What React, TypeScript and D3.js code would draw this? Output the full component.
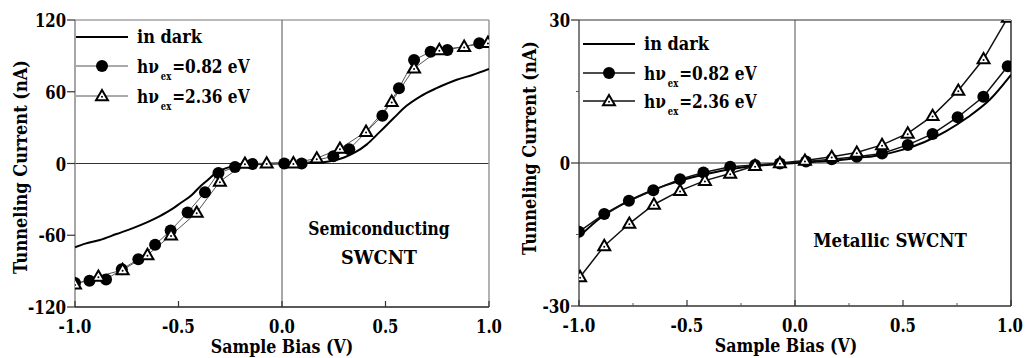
import * as d3 from "d3";

// Only DejaVu Serif renders as a serif face here; each text gets squeezed to Times Bold widths.
const FONT = "DejaVu Serif";
const EM = 20.7; // reference text size (Times Bold metrics)
const SIZE = 18.8; // DejaVu Serif size with the same cap height

/* ---------------- data: semiconducting SWCNT ---------------- */

const semiDarkBias = [-1.0, -0.95, -0.88, -0.8, -0.72, -0.65, -0.59, -0.53, -0.49, -0.44, -0.4, -0.36, -0.32, -0.28, -0.24, -0.2, -0.15, -0.1, 0, 0.1, 0.15, 0.2, 0.25, 0.3, 0.35, 0.41, 0.47, 0.54, 0.6, 0.667, 0.747, 0.844, 0.92, 1.0];
const semiDarkCurrent = [-70, -67, -64, -59, -54, -49, -44, -38, -33, -27, -20, -14, -8, -4.5, -2.5, -1.5, -0.8, -0.4, 0, 0.3, 0.5, 1, 2.5, 5, 9, 16, 26, 38, 48, 56, 63, 70, 74, 79];

const semiLowBias = [-1.0, -0.93, -0.85, -0.774, -0.694, -0.613, -0.538, -0.456, -0.372, -0.307, -0.227, -0.143, 0.011, 0.095, 0.248, 0.325, 0.485, 0.565, 0.638, 0.718, 0.799, 0.953];
const semiLowCurrent = [-100, -98, -97, -88.5, -80, -68, -56, -41, -24, -8, -3, -0.4, 0, 0, 6, 12, 40, 63, 86.5, 93.5, 95, 100.5];

const semiHighBias = [-1.0, -0.887, -0.77, -0.65, -0.536, -0.412, -0.3, -0.179, -0.074, 0.055, 0.168, 0.28, 0.406, 0.53, 0.638, 0.76, 0.88, 0.995];
const semiHighCurrent = [-101, -94.5, -89, -76.5, -60, -41, -15, 0, 0.2, 0.3, 4.3, 12.5, 26.6, 51.7, 79.6, 95, 97.7, 101];

/* ---------------- data: metallic SWCNT ---------------- */

const metalDarkBias = [-1.0, -0.9, -0.8, -0.7, -0.6, -0.5, -0.4, -0.3, -0.2, -0.1, 0, 0.1, 0.2, 0.3, 0.4, 0.5, 0.6, 0.7, 0.8, 0.9, 1.0];
const metalDarkCurrent = [-15.5, -11.5, -8.7, -6.5, -4.7, -3.3, -2.2, -1.3, -0.7, -0.3, 0, 0.3, 0.6, 1.1, 1.7, 2.8, 4.4, 6.7, 9.6, 13.2, 18.5];

const metalLowBias = [-1.0, -0.883, -0.769, -0.656, -0.532, -0.424, -0.3, -0.185, -0.07, 0.051, 0.17, 0.286, 0.403, 0.522, 0.637, 0.753, 0.872, 0.985];
const metalLowCurrent = [-14.4, -10.7, -7.9, -5.7, -3.4, -2.0, -0.8, -0.4, -0.1, 0.3, 0.8, 1.3, 2.0, 3.8, 6.1, 9.6, 13.9, 20.3];

const metalHighBias = [-0.995, -0.883, -0.767, -0.653, -0.532, -0.417, -0.3, -0.185, -0.07, 0.046, 0.17, 0.286, 0.403, 0.522, 0.637, 0.756, 0.873, 0.985];
const metalHighCurrent = [-23.9, -17.4, -12.7, -8.7, -5.8, -3.7, -2.2, -0.6, 0, 0.5, 1.3, 2.2, 3.8, 6.2, 9.9, 15.2, 21.8, 30.5];

/* ---------------- ticks & labels ---------------- */

const biasTicks = [-1, -0.5, 0, 0.5, 1];
const semiCurrentTicks = [-120, -60, 0, 60, 120];
const metalCurrentTicks = [-30, 0, 30];
const metalMinorCurrentTicks = [-15, 15];
const metalMinorBiasTicks = [-0.75, -0.25, 0.25, 0.75];
const legendEnergies = ["=0.82 eV", "=2.36 eV"];

/* Times New Roman Bold advance widths (1/1000 em) */
const TIMES_BOLD: Record<string, number> = {
  " ": 250, "(": 333, ")": 333, "-": 333, ".": 250, "=": 570,
  A: 722, B: 667, C: 722, M: 944, N: 722, S: 556, T: 667, V: 722, W: 1000,
  a: 500, c: 444, d: 556, e: 444, g: 500, h: 556, i: 278, k: 556, l: 278, m: 833,
  n: 556, o: 500, p: 556, r: 444, s: 389, t: 333, u: 556, x: 500, "ν": 500,
};
const textW = (s: string, em = EM) =>
  [...s].reduce((acc, ch) => acc + (/[0-9]/.test(ch) ? 500 : TIMES_BOLD[ch] ?? 500), 0) * em / 1000;

function Label({ x, y, s, anchor = "start", em = EM, size = SIZE, transform }: {
  x: number; y: number; s: string; anchor?: "start" | "middle" | "end"; em?: number; size?: number; transform?: string;
}) {
  return (
    <text
      x={x}
      y={y}
      transform={transform}
      textAnchor={anchor}
      fontSize={size}
      textLength={textW(s, em)}
      lengthAdjust="spacingAndGlyphs"
    >
      {s}
    </text>
  );
}

type Pt = [number, number];
const zip = (xs: number[], ys: number[]): Pt[] => xs.map((x, i) => [x, ys[i]]);

interface PanelProps {
  id: string;
  x0: number;
  x1: number;
  y0: number;
  y1: number;
  yMax: number;
  yTicks: number[];
  yMinor: number[];
  xMinor: number[];
  dark: Pt[];
  low: Pt[];
  high: Pt[];
  markerLine: string;
  markerLineWidth: number;
  frame: { left: string; top: string; right: string; bottom: string };
  legendX: number;
  legendYs: number[];
  notes: string[];
  noteX: number;
  noteYs: number[];
  yTitleX: number;
  yTitleY: number;
  xTitleX: number;
}

function Triangle({ x, y }: { x: number; y: number }) {
  const tri = d3.symbol(d3.symbolTriangle, 62)();
  return (
    <g transform={`translate(${x},${y + 0.8})`}>
      <path d={tri ?? ""} fill="#fff" stroke="#000" strokeWidth={2} strokeLinejoin="miter" />
      <circle r={1} fill="#000" />
    </g>
  );
}

function Panel(p: PanelProps) {
  const x = d3.scaleLinear().domain([-1, 1]).range([p.x0, p.x1]);
  const y = d3.scaleLinear().domain([-p.yMax, p.yMax]).range([p.y1, p.y0]);
  const line = d3.line<Pt>().x((d) => x(d[0])).y((d) => y(d[1]));
  const smooth = d3.line<Pt>().x((d) => x(d[0])).y((d) => y(d[1])).curve(d3.curveMonotoneX);
  const lx0 = p.legendX;
  const lx1 = p.legendX + 52;
  const lmid = (lx0 + lx1) / 2;
  const tx = lx1 + 9;
  const title = "Tunneling Current (nA)";

  return (
    <g fontFamily={FONT} fontWeight="bold" fill="#000">
      <defs>
        <clipPath id={`clip-${p.id}`}>
          <rect x={p.x0} y={p.y0} width={p.x1 - p.x0} height={p.y1 - p.y0} />
        </clipPath>
      </defs>

      {/* zero lines */}
      <line x1={x(0)} x2={x(0)} y1={p.y0} y2={p.y1} stroke="#8a8a8a" strokeWidth={1.5} />
      <line x1={p.x0} x2={p.x1} y1={y(0)} y2={y(0)} stroke="#333" strokeWidth={1.2} />

      {/* frame */}
      <line x1={p.x0} x2={p.x0} y1={p.y0} y2={p.y1} stroke={p.frame.left} strokeWidth={1.5} />
      <line x1={p.x0} x2={p.x1} y1={p.y0} y2={p.y0} stroke={p.frame.top} strokeWidth={1.2} />
      <line x1={p.x1} x2={p.x1} y1={p.y0} y2={p.y1} stroke={p.frame.right} strokeWidth={1.5} />
      <line x1={p.x0} x2={p.x1} y1={p.y1} y2={p.y1} stroke={p.frame.bottom} strokeWidth={1.5} />

      {/* y ticks */}
      {p.yTicks.map((t) => (
        <g key={`yt-${t}`}>
          <line x1={p.x0 - 8} x2={p.x0} y1={y(t)} y2={y(t)} stroke="#333" strokeWidth={1.2} />
          <Label x={p.x0 - 9} y={y(t) + 7} s={String(t)} anchor="end" />
        </g>
      ))}
      {p.yMinor.map((t) => (
        <line key={`ym-${t}`} x1={p.x0 - 3} x2={p.x0} y1={y(t)} y2={y(t)} stroke="#555" strokeWidth={1} />
      ))}

      {/* x ticks */}
      {biasTicks.map((t) => (
        <g key={`xt-${t}`}>
          <line x1={x(t)} x2={x(t)} y1={p.y1} y2={p.y1 - 6} stroke="#333" strokeWidth={1.2} />
          <Label x={Math.min(x(t), 1010)} y={p.y1 + 26} s={t.toFixed(1)} anchor="middle" />
        </g>
      ))}
      {p.xMinor.map((t) => (
        <line key={`xm-${t}`} x1={x(t)} x2={x(t)} y1={p.y1} y2={p.y1 - 3} stroke="#555" strokeWidth={1} />
      ))}

      {/* axis titles */}
      <Label x={p.xTitleX} y={p.y1 + 46} s="Sample Bias (V)" anchor="middle" />
      <Label
        x={0}
        y={0}
        s={title}
        anchor="middle"
        transform={`translate(${p.yTitleX},${p.yTitleY}) rotate(-90)`}
      />

      {/* data */}
      <g clipPath={`url(#clip-${p.id})`}>
        <path d={smooth(p.dark) ?? ""} fill="none" stroke="#000" strokeWidth={2} />
        <path d={line(p.low) ?? ""} fill="none" stroke={p.markerLine} strokeWidth={p.markerLineWidth} />
        <path d={line(p.high) ?? ""} fill="none" stroke={p.markerLine} strokeWidth={p.markerLineWidth} />
        {p.low.map((d, i) => (
          <circle key={`c-${i}`} cx={x(d[0])} cy={y(d[1])} r={6} fill="#000" />
        ))}
        {p.high.map((d, i) => (
          <Triangle key={`t-${i}`} x={x(d[0])} y={y(d[1])} />
        ))}
      </g>

      {/* legend */}
      <line x1={lx0} x2={lx1} y1={p.legendYs[0]} y2={p.legendYs[0]} stroke="#000" strokeWidth={2} />
      <Label x={tx} y={p.legendYs[0] + 6} s="in dark" />
      {legendEnergies.map((lab, i) => {
        const ly = p.legendYs[i + 1];
        const wh = textW("hν");
        const wex = textW("ex", 11);
        return (
          <g key={lab}>
            <line x1={lx0} x2={lx1} y1={ly} y2={ly} stroke={p.markerLine} strokeWidth={p.markerLineWidth} />
            {i === 0 ? <circle cx={lmid} cy={ly} r={6} fill="#000" /> : <Triangle x={lmid} y={ly} />}
            <Label x={tx} y={ly + 7} s="hν" />
            <Label x={tx + wh + 2} y={ly + 14} s="ex" em={11} size={10.5} />
            <Label x={tx + wh + wex + 3} y={ly + 7} s={lab} />
          </g>
        );
      })}

      {/* annotation */}
      {p.notes.map((n, i) => (
        <Label key={n} x={p.noteX} y={p.noteYs[i]} s={n} anchor="middle" />
      ))}
    </g>
  );
}

export default function App() {
  return (
    <svg
      width={1026}
      height={358}
      viewBox="0 0 1026 358"
      style={{ position: "absolute", left: 0, top: 0, background: "#fff" }}
    >
      <Panel
        id="semi"
        x0={75}
        x1={489}
        y0={20}
        y1={307}
        yMax={120}
        yTicks={semiCurrentTicks}
        yMinor={[]}
        xMinor={[]}
        dark={zip(semiDarkBias, semiDarkCurrent)}
        low={zip(semiLowBias, semiLowCurrent)}
        high={zip(semiHighBias, semiHighCurrent)}
        markerLine="#555"
        markerLineWidth={1}
        frame={{ left: "#888", top: "#777", right: "#999", bottom: "#222" }}
        legendX={76}
        legendYs={[37, 66, 96]}
        notes={["Semiconducting", "SWCNT"]}
        noteX={379}
        noteYs={[235, 264]}
        yTitleX={27}
        yTitleY={167}
        xTitleX={282}
      />
      <Panel
        id="metal"
        x0={579}
        x1={1011}
        y0={20}
        y1={306}
        yMax={30}
        yTicks={metalCurrentTicks}
        yMinor={metalMinorCurrentTicks}
        xMinor={metalMinorBiasTicks}
        dark={zip(metalDarkBias, metalDarkCurrent)}
        low={zip(metalLowBias, metalLowCurrent)}
        high={zip(metalHighBias, metalHighCurrent)}
        markerLine="#111"
        markerLineWidth={1.5}
        frame={{ left: "#555", top: "#333", right: "#333", bottom: "#333" }}
        legendX={583}
        legendYs={[44, 73, 101]}
        notes={["Metallic SWCNT"]}
        noteX={890}
        noteYs={[247]}
        yTitleX={536}
        yTitleY={148}
        xTitleX={786}
      />
    </svg>
  );
}
